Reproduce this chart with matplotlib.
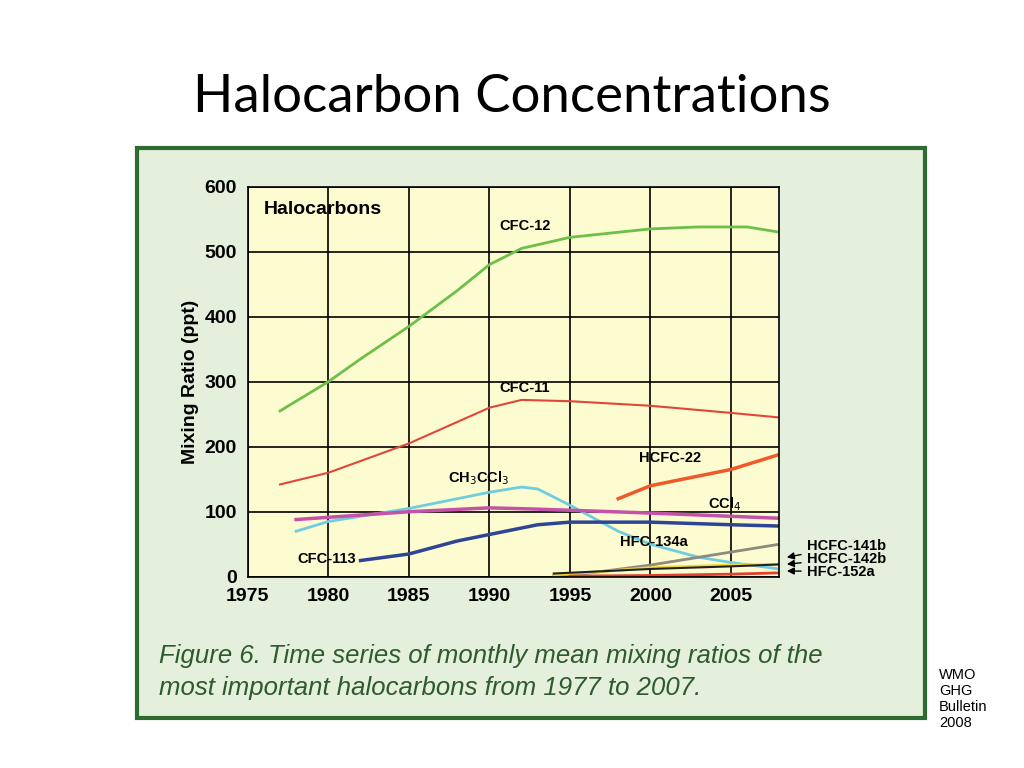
import matplotlib
matplotlib.use("Agg")
import matplotlib.pyplot as plt
from matplotlib.patches import Rectangle

plt.rcParams['font.family'] = ['Liberation Sans', 'DejaVu Sans']

cfc12_x = [1977, 1978, 1980, 1982, 1985, 1988, 1990, 1992, 1995, 2000, 2003, 2006, 2008]
cfc12_y = [255, 270, 300, 335, 385, 440, 480, 505, 522, 535, 538, 538, 530]
cfc11_x = [1977, 1980, 1985, 1990, 1992, 1995, 2000, 2005, 2008]
cfc11_y = [142, 160, 205, 260, 272, 270, 263, 252, 245]
hcfc22_x = [1998, 1999, 2000, 2005, 2008]
hcfc22_y = [120, 130, 140, 165, 188]
ch3ccl3_x = [1978, 1980, 1985, 1990, 1992, 1993, 1995, 1998, 2000, 2003, 2005, 2008]
ch3ccl3_y = [70, 85, 105, 130, 138, 135, 110, 70, 50, 30, 22, 12]
ccl4_x = [1978, 1985, 1990, 1993, 2000, 2005, 2008]
ccl4_y = [88, 100, 106, 104, 98, 93, 90]
cfc113_x = [1982, 1985, 1988, 1990, 1993, 1995, 2000, 2005, 2008]
cfc113_y = [25, 35, 55, 65, 80, 84, 84, 80, 78]
hfc134a_x = [1994, 1996, 2000, 2005, 2008]
hfc134a_y = [2, 5, 18, 38, 50]
hcfc141b_x = [1994, 1997, 2000, 2005, 2008]
hcfc141b_y = [3, 8, 14, 18, 19]
hcfc142b_x = [1994, 2000, 2005, 2008]
hcfc142b_y = [5, 12, 16, 19]
hfc152a_x = [1995, 2000, 2005, 2008]
hfc152a_y = [1, 2, 4, 6]

fig = plt.figure(figsize=(10.24, 7.68), dpi=100)
fig.patches.append(Rectangle((137/1024, 1-718/768), 788/1024, 570/768,
                             transform=fig.transFigure, facecolor="#e4efdc",
                             edgecolor="#2e6b30", linewidth=3, zorder=-5))
fig.text(0.5, 0.873, "Halocarbon Concentrations", ha="center", va="center",
         fontsize=38, family=["Lato", "DejaVu Sans"])
fig.text(0.155, 0.125, "Figure 6. Time series of monthly mean mixing ratios of the\n"
         "most important halocarbons from 1977 to 2007.", fontsize=18.5,
         style="italic", color="#2e5a2e", va="center", linespacing=1.4)
fig.text(0.917, 0.09, "WMO\nGHG\nBulletin\n2008", fontsize=10.5, va="center")

ax = fig.add_axes([0.242, 0.249, 0.519, 0.508])
ax.set_facecolor("#fdfbd0")
ax.plot(cfc12_x, cfc12_y, color="#6cc04a", lw=2)
ax.plot(cfc11_x, cfc11_y, color="#e0473a", lw=1.5)
ax.plot(hcfc22_x, hcfc22_y, color="#ee5a2a", lw=2.5)
ax.plot(ch3ccl3_x, ch3ccl3_y, color="#6fcde0", lw=2)
ax.plot(ccl4_x, ccl4_y, color="#c452a8", lw=2.5)
ax.plot(cfc113_x, cfc113_y, color="#2e4596", lw=2.5)
ax.plot(hfc134a_x, hfc134a_y, color="#8f8a80", lw=2)
ax.plot(hcfc141b_x, hcfc141b_y, color="#f0d838", lw=2)
ax.plot(hcfc142b_x, hcfc142b_y, color="#222222", lw=1.5)
ax.plot(hfc152a_x, hfc152a_y, color="#e04030", lw=2)
ax.set_xlim(1975, 2008)
ax.set_ylim(0, 600)
ax.set_xticks(range(1975, 2006, 5))
ax.set_yticks(range(0, 601, 100))
ax.grid(color="black", lw=1.2)
ax.tick_params(labelsize=14, length=0)
ax.tick_params(axis="x", pad=8)
ax.tick_params(axis="y", pad=8)
for lab in ax.get_xticklabels() + ax.get_yticklabels():
    lab.set_fontweight("bold")
ax.set_ylabel("Mixing Ratio (ppt)", fontsize=14, fontweight="bold")
for s in ax.spines.values():
    s.set_linewidth(1.2)

labels = [(1976, 565, "Halocarbons", 14), (1990.6, 540, "CFC-12", 10.5),
          (1990.6, 290, "CFC-11", 10.5), (1999.3, 183, "HCFC-22", 10.5),
          (1987.4, 152, "CH$_3$CCl$_3$", 10.5), (2003.6, 112, "CCl$_4$", 10.5),
          (1998.1, 53, "HFC-134a", 10.5), (1978.1, 28, "CFC-113", 10.5)]
for x, y, t, fs in labels:
    ax.text(x, y, t, fontsize=fs, va="center", fontweight="bold")
for y, t in [(48, "HCFC-141b"), (28, "HCFC-142b"), (8, "HFC-152a")]:
    ax.annotate(t, xy=(2008.3, y * 0.5 + 5), xytext=(2009.7, y), fontsize=10.5,
                va="center", annotation_clip=False, fontweight="bold",
                arrowprops=dict(arrowstyle="-|>", color="black", lw=1))

fig.savefig("out.png")
